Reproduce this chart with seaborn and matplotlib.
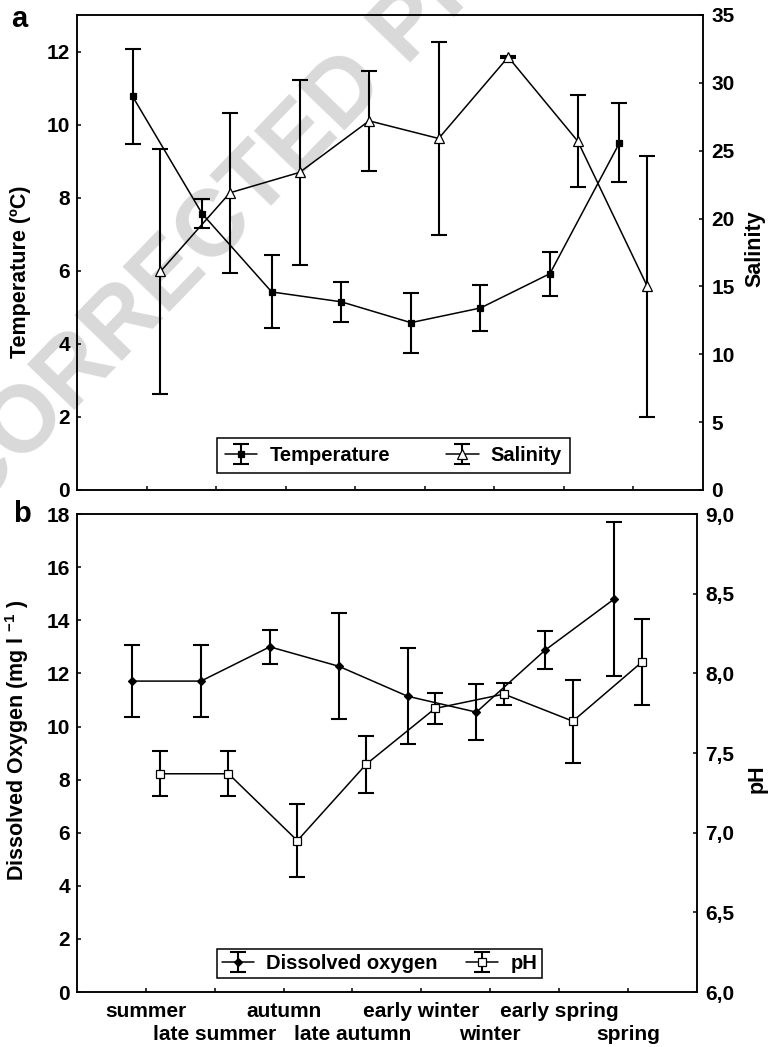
import numpy as np
import pandas as pd
import matplotlib
matplotlib.use("Agg")
import matplotlib.pyplot as plt
import seaborn as sns
from matplotlib.legend_handler import HandlerTuple

# data (means and +/- error)
seasons = ["summer", "late summer", "autumn", "late autumn",
           "early winter", "winter", "early spring", "spring"]
temp_mean = [10.77, 7.56, 5.42, 5.15, 4.58, 4.98, 5.92, 9.50]
temp_err = [1.30, 0.40, 1.00, 0.55, 0.82, 0.62, 0.60, 1.08]
sal_mean = [16.1, 21.9, 23.4, 27.2, 25.9, 31.9, 25.7, 15.0]
sal_err = [9.0, 5.9, 6.8, 3.7, 7.1, 0.1, 3.4, 9.6]
do_mean = [11.71, 11.71, 13.00, 12.27, 11.14, 10.54, 12.88, 14.80]
do_err = [1.35, 1.35, 0.65, 2.00, 1.80, 1.05, 0.70, 2.90]
ph_mean = [7.37, 7.37, 6.95, 7.43, 7.78, 7.87, 7.70, 8.07]
ph_err = [0.14, 0.14, 0.23, 0.18, 0.10, 0.07, 0.26, 0.27]

sns.set_theme(style="ticks")
plt.rcParams["font.family"] = ["Liberation Sans", "DejaVu Sans"]
plt.rcParams["font.weight"] = "bold"
plt.rcParams["axes.labelweight"] = "bold"
plt.rcParams["mathtext.default"] = "regular"
plt.rcParams["axes.linewidth"] = 1.1
for k in ("text.color", "axes.labelcolor", "xtick.color", "ytick.color", "axes.edgecolor"):
    plt.rcParams[k] = "black"

TICK_FS = 15
LABEL_FS = 15.5
LEG_FS = 14.5

pos = np.arange(1, len(seasons) + 1)
df = pd.DataFrame({"season": seasons, "pos": pos,
                   "temp": temp_mean, "temp_err": temp_err,
                   "sal": sal_mean, "sal_err": sal_err,
                   "do": do_mean, "do_err": do_err,
                   "ph": ph_mean, "ph_err": ph_err})


def draw_series(ax, x, col, marker, mfc, ms):
    sns.lineplot(x=x, y=df[col], ax=ax, color="black", lw=1.1, marker=marker,
                 markersize=ms, markerfacecolor=mfc, markeredgecolor="black",
                 markeredgewidth=0.9, legend=False, errorbar=None, zorder=3)
    line = ax.lines[-1]
    eb = ax.errorbar(x, df[col], yerr=df[col + "_err"], fmt="none", ecolor="black",
                     elinewidth=1.5, capsize=5.5, capthick=1.5, zorder=2)
    return (eb, line)


def style_axes(ax):
    ax.set_facecolor("none")
    ax.tick_params(which="both", direction="in", length=3, width=1.1,
                   labelsize=TICK_FS, colors="black")
    for s in ax.spines.values():
        s.set_visible(True)
        s.set_color("black")
        s.set_linewidth(1.1)


fig = plt.figure(figsize=(7.69, 10.47), dpi=100)

# watermark
fig.text(0.375, 0.853, "CORRECTED PROOF", rotation=46, fontsize=68, color="#d9d9d9",
         weight="bold", ha="center", va="center", zorder=-1)

# ---- panel a
ax_a = fig.add_axes([0.1001, 0.532, 0.814, 0.4537])
ax_a2 = ax_a.twinx()
h_temp = draw_series(ax_a, df["pos"] - 0.2, "temp", "s", "black", 5)
h_sal = draw_series(ax_a2, df["pos"] + 0.2, "sal", "^", "white", 6.5)

ax_a.set_xlim(0, 9)
ax_a.set_ylim(0, 13)
ax_a.set_yticks(np.arange(0, 13, 2))
ax_a2.set_ylim(0, 35)
ax_a2.set_yticks(np.arange(0, 36, 5))
ax_a.set_xticks(pos)
ax_a.set_xticklabels([])
ax_a.set_xlabel("")
ax_a2.set_xlabel("")
ax_a.set_ylabel("Temperature (ºC)", fontsize=LABEL_FS)
ax_a2.set_ylabel("Salinity", fontsize=LABEL_FS)
ax_a.yaxis.set_label_coords(-0.0735, 0.46)
ax_a2.yaxis.set_label_coords(1.067, 0.507)
for ax in (ax_a, ax_a2):
    style_axes(ax)
ax_a.tick_params(axis="y", pad=5)
ax_a2.tick_params(axis="y", pad=6)

leg = ax_a2.legend(handles=[h_temp, h_sal], labels=["Temperature", "Salinity"],
                   handler_map={tuple: HandlerTuple(ndivide=1)},
                   loc="lower left", bbox_to_anchor=(0.2236, 0.0358), borderaxespad=0,
                   ncol=2, fontsize=LEG_FS, frameon=True, fancybox=False,
                   edgecolor="black", framealpha=1, handlelength=1.6,
                   handletextpad=0.6, columnspacing=2.8, borderpad=0.4)
leg.get_frame().set_linewidth(1.1)

# ---- panel b
ax_b = fig.add_axes([0.1001, 0.0525, 0.806, 0.4565])
ax_b2 = ax_b.twinx()
h_do = draw_series(ax_b, df["pos"] - 0.2, "do", "D", "black", 4)
h_ph = draw_series(ax_b2, df["pos"] + 0.2, "ph", "s", "white", 6)

ax_b.set_xlim(0, 9)
ax_b.set_ylim(0, 18)
ax_b.set_yticks(np.arange(0, 19, 2))
ax_b2.set_ylim(6, 9)
ph_ticks = np.arange(6.0, 9.01, 0.5)
ax_b2.set_yticks(ph_ticks)
ax_b2.set_yticklabels([f"{t:.1f}".replace(".", ",") for t in ph_ticks])
# staggered season labels: upper row on major ticks, lower row on minor ticks
ax_b.set_xticks(pos[0::2])
ax_b.set_xticklabels(seasons[0::2])
ax_b.set_xticks(pos[1::2], minor=True)
ax_b.set_xticklabels(seasons[1::2], minor=True)
ax_b.set_xlabel("")
ax_b2.set_xlabel("")
ax_b.set_ylabel("Dissolved Oxygen (mg l $^{-1}$ )", fontsize=LABEL_FS)
ax_b2.set_ylabel("pH", fontsize=LABEL_FS)
ax_b.yaxis.set_label_coords(-0.074, 0.527)
ax_b2.yaxis.set_label_coords(1.081, 0.446)
for ax in (ax_b, ax_b2):
    style_axes(ax)
ax_b.tick_params(axis="y", pad=5)
ax_b.tick_params(axis="x", which="major", pad=7)
ax_b.tick_params(axis="x", which="minor", pad=24)
ax_b2.tick_params(axis="y", pad=6)

leg = ax_b2.legend(handles=[h_do, h_ph], labels=["Dissolved oxygen", "pH"],
                   handler_map={tuple: HandlerTuple(ndivide=1)},
                   loc="lower left", bbox_to_anchor=(0.2258, 0.0293), borderaxespad=0,
                   ncol=2, fontsize=LEG_FS, frameon=True, fancybox=False,
                   edgecolor="black", framealpha=1, handlelength=1.6,
                   handletextpad=0.6, columnspacing=1.4, borderpad=0.25)
leg.get_frame().set_linewidth(1.1)

# panel letters
fig.text(0.015, 1 - 27 / 1047, "a", fontsize=21, weight="bold", va="baseline")
fig.text(0.017, 1 - 522 / 1047, "b", fontsize=21, weight="bold", va="baseline")

fig.savefig("out.png", dpi=100)
